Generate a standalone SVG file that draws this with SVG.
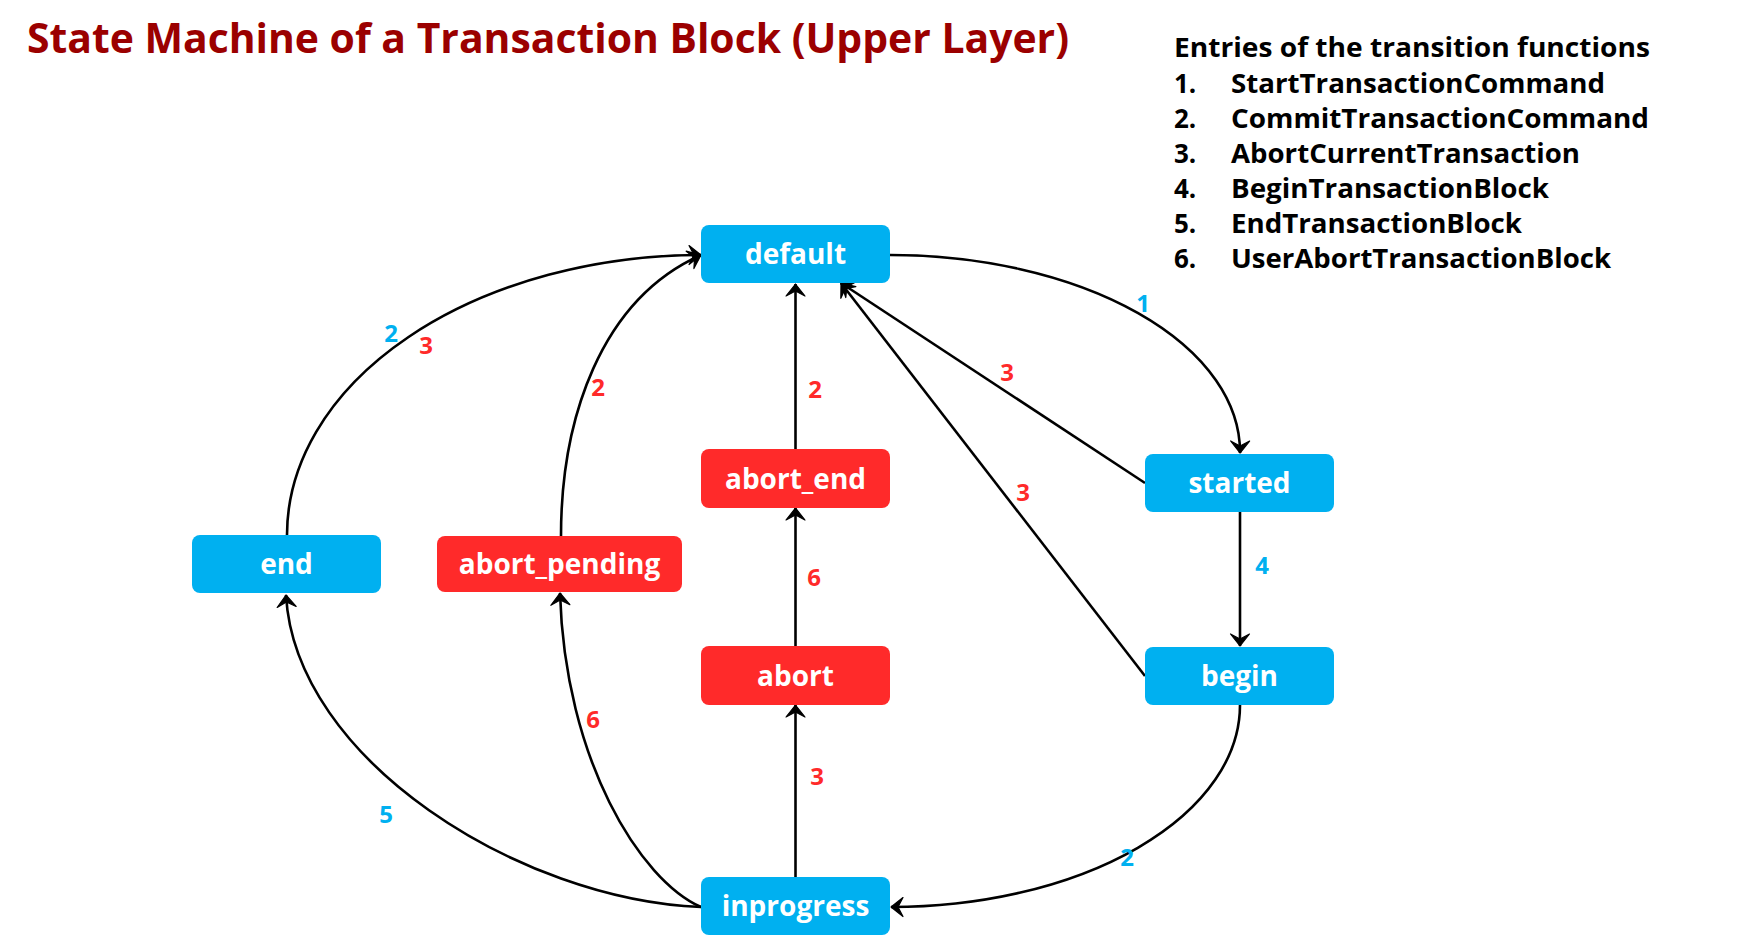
<svg xmlns="http://www.w3.org/2000/svg" width="1743" height="941" viewBox="0 0 1743 941">
<style>
.bg{fill:#ffffff}
.title{font-family:"Open Sans","Liberation Sans",sans-serif;font-weight:bold;font-size:41px;fill:#9B0000}
.leg{font-family:"Open Sans","Liberation Sans",sans-serif;font-weight:bold;font-size:26px;fill:#000}
.blue rect{fill:#00B0F0}
.red rect{fill:#FF2A2A}
.node text{font-family:"Open Sans","Liberation Sans",sans-serif;font-weight:bold;font-size:28px;fill:#fff;text-anchor:middle}
.edge{fill:none;stroke:#000;stroke-width:2.6;marker-end:url(#arr)}
.lbl{font-family:"Open Sans","Liberation Sans",sans-serif;font-weight:bold;font-size:24px;text-anchor:middle}
.lb{fill:#00B0F0}
.lr{fill:#FF2A2A}
</style>
<defs>
<marker id="arr" viewBox="-14 -12 16 24" refX="0" refY="0" markerWidth="16" markerHeight="24" orient="auto" markerUnits="userSpaceOnUse">
<path d="M0,0 L-12,-9.5 L-7,0 L-12,9.5 Z" fill="#000" stroke="#000" stroke-width="1.2" stroke-linejoin="round"/>
</marker>
</defs>
<rect class="bg" x="0" y="0" width="1743" height="941"/>
<text class="title" x="27" y="53" textLength="1042" lengthAdjust="spacingAndGlyphs">State Machine of a Transaction Block (Upper Layer)</text>
<g id="legend" class="leg">
<text x="1174" y="57" textLength="476" lengthAdjust="spacingAndGlyphs">Entries of the transition functions</text>
<text x="1174" y="93">1.</text><text x="1231" y="93" textLength="374" lengthAdjust="spacingAndGlyphs">StartTransactionCommand</text>
<text x="1174" y="128">2.</text><text x="1231" y="128" textLength="418" lengthAdjust="spacingAndGlyphs">CommitTransactionCommand</text>
<text x="1174" y="163">3.</text><text x="1231" y="163" textLength="349" lengthAdjust="spacingAndGlyphs">AbortCurrentTransaction</text>
<text x="1174" y="198">4.</text><text x="1231" y="198" textLength="318" lengthAdjust="spacingAndGlyphs">BeginTransactionBlock</text>
<text x="1174" y="233">5.</text><text x="1231" y="233" textLength="291" lengthAdjust="spacingAndGlyphs">EndTransactionBlock</text>
<text x="1174" y="268">6.</text><text x="1231" y="268" textLength="380" lengthAdjust="spacingAndGlyphs">UserAbortTransactionBlock</text>
</g>
<g id="connectors">
<path class="edge" d="M890,255 A350,197 0 0 1 1240,453"/>
<path class="edge" d="M1145,483 L841,283"/>
<path class="edge" d="M1145,676 L841,283"/>
<path class="edge" d="M1240,512 L1240,646"/>
<path class="edge" d="M1240,705 A349,202 0 0 1 891,907"/>
<path class="edge" d="M795.5,877 L795.5,705"/>
<path class="edge" d="M795.5,646 L795.5,508"/>
<path class="edge" d="M795.5,449 L795.5,284"/>
<path class="edge" d="M287,535 A415,280 0 0 1 701,255"/>
<path class="edge" d="M561,536 C561,420 600,300 701,255"/>
<path class="edge" d="M701,907 C520,900 295,760 286,595"/>
<path class="edge" d="M701,907 C640,880 565,760 560,593"/>
</g>
<g id="edge-labels" class="lbl">
<text class="lb" x="1143" y="312">1</text>
<text class="lr" x="1007" y="381">3</text>
<text class="lr" x="1023" y="501">3</text>
<text class="lb" x="1262" y="574">4</text>
<text class="lb" x="1127" y="866">2</text>
<text class="lr" x="815" y="398">2</text>
<text class="lr" x="814" y="586">6</text>
<text class="lr" x="817" y="785">3</text>
<text class="lb" x="391" y="342">2</text>
<text class="lr" x="426" y="354">3</text>
<text class="lr" x="598" y="396">2</text>
<text class="lb" x="386" y="823">5</text>
<text class="lr" x="593" y="728">6</text>
</g>
<g id="node-default" class="node blue"><rect x="701" y="225" width="189" height="58" rx="8"/><text x="795.5" y="264">default</text></g>
<g id="node-started" class="node blue"><rect x="1145" y="454" width="189" height="58" rx="8"/><text x="1239.5" y="493">started</text></g>
<g id="node-begin" class="node blue"><rect x="1145" y="647" width="189" height="58" rx="8"/><text x="1239.5" y="686">begin</text></g>
<g id="node-abort_end" class="node red"><rect x="701" y="449" width="189" height="59" rx="8"/><text x="795.5" y="489">abort_end</text></g>
<g id="node-abort" class="node red"><rect x="701" y="646" width="189" height="59" rx="8"/><text x="795.5" y="686">abort</text></g>
<g id="node-inprogress" class="node blue"><rect x="701" y="877" width="189" height="58" rx="8"/><text x="795.5" y="916">inprogress</text></g>
<g id="node-end" class="node blue"><rect x="192" y="535" width="189" height="58" rx="8"/><text x="286.5" y="574">end</text></g>
<g id="node-abort_pending" class="node red"><rect x="437" y="536" width="245" height="56" rx="8"/><text x="559.5" y="574">abort_pending</text></g>
</svg>
